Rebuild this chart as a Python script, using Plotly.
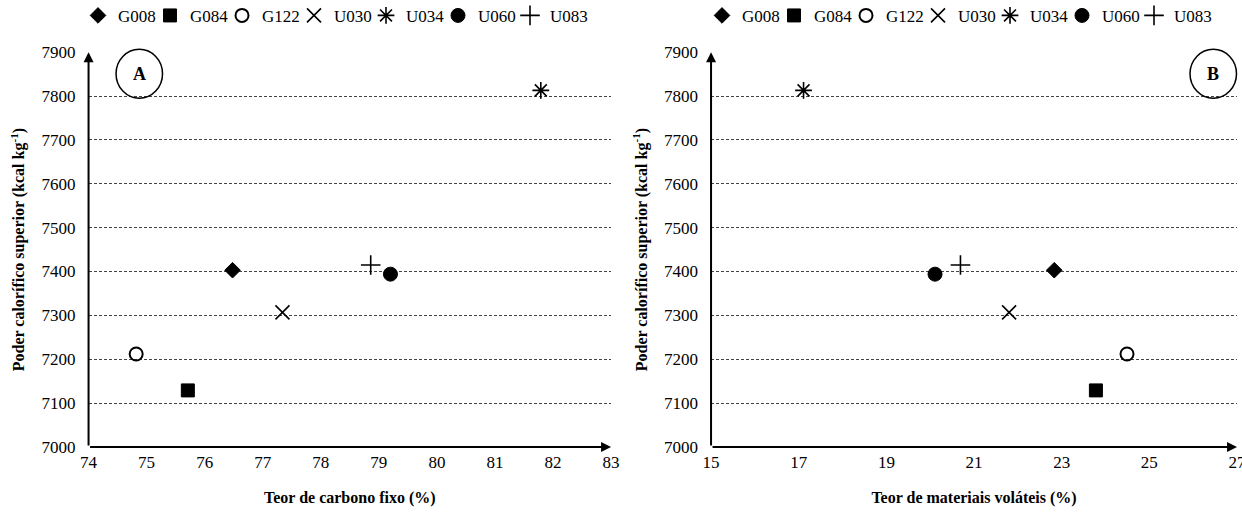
import plotly.graph_objects as go

names = ["G008", "G084", "G122", "U030", "U034", "U060", "U083"]
carbono_fixo = [76.48, 75.71, 74.82, 77.34, 81.79, 79.20, 78.86]
materiais_volateis = [22.83, 23.78, 24.49, 21.80, 17.11, 20.11, 20.69]
poder_calorifico = [7403, 7129, 7212, 7307, 7813, 7394, 7415]

symbols = ["diamond", "square", "circle-open", "x-thin-open", "asterisk-open", "circle", "cross-thin-open"]
sizes = [12, 13, 13, 14, 14, 14, 14]
lw = [1, 1, 2, 1.6, 1.6, 1, 1.6]

FONT = "Liberation Serif, Times New Roman, serif"

fig = go.Figure()
for xa, ya, lg, xs in [("x", "y", "legend", carbono_fixo), ("x2", "y2", "legend2", materiais_volateis)]:
    for i, n in enumerate(names):
        fig.add_trace(go.Scatter(x=[xs[i]], y=[poder_calorifico[i]], mode="markers", name=n,
                                 marker=dict(symbol=symbols[i], size=sizes[i], color="black",
                                             line=dict(color="black", width=lw[i])),
                                 xaxis=xa, yaxis=ya, legend=lg))
    # empty spacer entry so the last legend label is not clipped
    fig.add_trace(go.Scatter(x=[None], y=[None], mode="markers", name=" ",
                             marker=dict(size=0, color="rgba(0,0,0,0)", line=dict(width=0, color="rgba(0,0,0,0)")),
                             hoverinfo="skip", xaxis=xa, yaxis=ya, legend=lg, showlegend=True))

grid = dict(showgrid=True, gridcolor="#444", gridwidth=1, griddash="3px,2px")
yax = dict(range=[7000, 7900], dtick=100, showline=False, zeroline=False, ticks="", automargin=False,
           ticklabelstandoff=12, tickfont=dict(family=FONT, size=17, color="black"),
           title=dict(text="<b>Poder calorífico superior (kcal kg<sup>-1</sup>)</b>",
                      font=dict(family=FONT, size=16, color="black"), standoff=12), **grid)
xax = dict(showgrid=False, zeroline=False, showline=False, ticks="", ticklabelstandoff=3, automargin=False,
           ticklabeloverflow="allow", tickfont=dict(family=FONT, size=17, color="black"))

leg = dict(orientation="h", y=0.969, yanchor="middle", xanchor="left", itemwidth=30,
           entrywidth=27, entrywidthmode="pixels", itemclick=False, itemdoubleclick=False,
           font=dict(family=FONT, size=17, color="black"), tracegroupgap=0)

fig.update_layout(
    width=1242, height=512, margin=dict(l=0, r=0, t=0, b=0, autoexpand=False),
    plot_bgcolor="white", paper_bgcolor="white",
    xaxis=dict(domain=[0.0713, 0.492], range=[74, 83], dtick=1, anchor="y",
               title=dict(text="<b>Teor de carbono fixo (%)</b>", font=dict(family=FONT, size=16, color="black"), standoff=20), **xax),
    yaxis=dict(domain=[0.127, 0.898], anchor="x", **yax),
    xaxis2=dict(domain=[0.5725, 0.996], range=[15, 27], tick0=15, dtick=2, anchor="y2",
                title=dict(text="<b>Teor de materiais voláteis (%)</b>", font=dict(family=FONT, size=16, color="black"), standoff=20), **xax),
    yaxis2=dict(domain=[0.127, 0.898], anchor="x2", **yax),
    legend=dict(x=78 / 1242, **leg),
    legend2=dict(x=702 / 1242, **leg),
    showlegend=True,
)

# axis arrows
for xa, ya, xr in [("x", "y", [74, 83]), ("x2", "y2", [15, 27])]:
    fig.add_annotation(x=xr[1], y=7000, ax=xr[0], ay=7000, xref=xa, yref=ya, axref=xa, ayref=ya,
                       showarrow=True, arrowhead=2, arrowsize=1, arrowwidth=2, arrowcolor="black", text="")
    fig.add_annotation(x=xr[0], y=7900, ax=xr[0], ay=7000, xref=xa, yref=ya, axref=xa, ayref=ya,
                       showarrow=True, arrowhead=2, arrowsize=1, arrowwidth=2, arrowcolor="black", text="")

# panel labels
for xa, ya, x0, x1, lab in [("x", "y", 0.0526, 0.1416, "A"), ("x2", "y2", 0.9106, 0.999, "B")]:
    fig.add_shape(type="circle", xref=f"{xa} domain", yref=f"{ya} domain", x0=x0, x1=x1, y0=0.8835, y1=1.0076,
                  line=dict(color="black", width=1.5), fillcolor="rgba(0,0,0,0)")
    fig.add_annotation(xref=f"{xa} domain", yref=f"{ya} domain", x=(x0 + x1) / 2, y=(0.8835 + 1.0076) / 2,
                       xanchor="center", yanchor="middle",
                       text=f"<b>{lab}</b>", showarrow=False, font=dict(family=FONT, size=18, color="black"))

fig.write_html("out.html")
